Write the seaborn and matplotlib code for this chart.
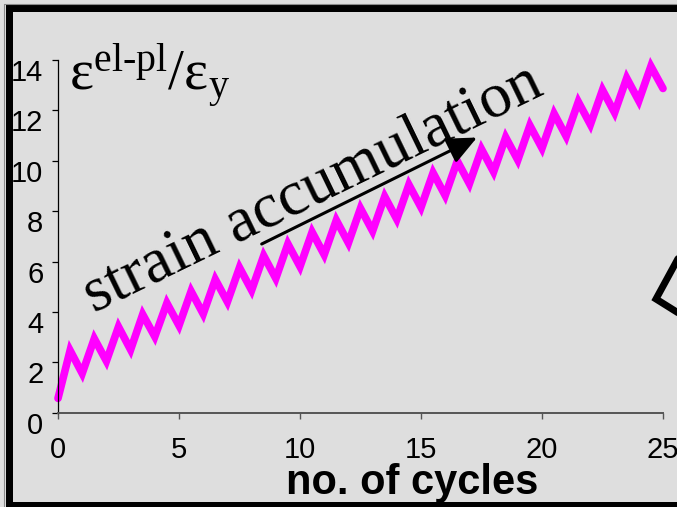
import matplotlib
matplotlib.use("Agg")

import matplotlib.pyplot as plt
import matplotlib.transforms as mtransforms
from matplotlib.patches import Rectangle, FancyArrowPatch
from matplotlib.lines import Line2D
import seaborn as sns

# cycle count (half cycles: valleys at integers, peaks at halves)
cycles = [0, 0.5, 1, 1.5, 2, 2.5, 3, 3.5, 4, 4.5, 5, 5.5, 6, 6.5, 7, 7.5,
          8, 8.5, 9, 9.5, 10, 10.5, 11, 11.5, 12, 12.5, 13, 13.5, 14, 14.5,
          15, 15.5, 16, 16.5, 17, 17.5, 18, 18.5, 19, 19.5, 20, 20.5, 21,
          21.5, 22, 22.5, 23, 23.5, 24, 24.5, 25]

# normalised elastic-plastic strain
strain = [0.57, 2.47, 1.56, 2.94, 2.05, 3.41, 2.50, 3.90, 3.02, 4.35,
          3.46, 4.82, 3.92, 5.29, 4.40, 5.76, 4.86, 6.23, 5.33, 6.70,
          5.80, 7.17, 6.27, 7.64, 6.74, 8.11, 7.21, 8.58, 7.68, 9.05,
          8.15, 9.52, 8.62, 9.99, 9.09, 10.46, 9.56, 10.93, 10.03, 11.40,
          10.50, 11.87, 10.97, 12.34, 11.44, 12.81, 11.91, 13.28, 12.38, 13.75,
          12.87]

x_ticks = [0, 5, 10, 15, 20, 25]
y_ticks = [0, 2, 4, 6, 8, 10, 12, 14]

W, H = 677, 507
BG = "#dedede"

sns.set_style("white")
plt.rcParams["font.family"] = ["Liberation Sans", "DejaVu Sans"]
plt.rcParams["text.color"] = "black"
plt.rcParams["axes.labelcolor"] = "black"
plt.rcParams["xtick.labelcolor"] = "black"
plt.rcParams["ytick.labelcolor"] = "black"
plt.rcParams["mathtext.fontset"] = "custom"
plt.rcParams["mathtext.rm"] = "Liberation Serif"
plt.rcParams["mathtext.it"] = "Liberation Serif:italic"
plt.rcParams["mathtext.bf"] = "Liberation Serif:bold"

fig = plt.figure(figsize=(W / 100, H / 100), dpi=100, facecolor=BG)
ax = fig.add_axes([58 / W, (H - 412.7) / H, 605 / W, 352.7 / H])
ax.set_facecolor(BG)

sns.lineplot(x=cycles, y=strain, ax=ax, color="#ff00ff", linewidth=5.5,
             solid_joinstyle="miter", clip_on=False)

ax.set_xlim(0, 25)
ax.set_ylim(0, 14)
ax.set_xticks(x_ticks)
ax.set_yticks(y_ticks)

for s in ["top", "right"]:
    ax.spines[s].set_visible(False)
ax.spines["left"].set_color("black")
ax.spines["left"].set_linewidth(0.9)
ax.spines["bottom"].set_color("#555555")
ax.spines["bottom"].set_linewidth(1.4)

ax.tick_params(axis="x", direction="out", length=4.5, width=1.0, color="#555555",
               labelsize=21, pad=12, bottom=True, labelcolor="black")
ax.tick_params(axis="y", direction="out", length=4.5, width=0.9, color="black",
               labelsize=21, pad=6, left=True, labelcolor="black")

# y tick labels sit a bit below their ticks in the original
offset = mtransforms.ScaledTranslation(0, -10 / 100, fig.dpi_scale_trans)
for lab in ax.get_yticklabels():
    lab.set_transform(lab.get_transform() + offset)

ax.set_xlabel("no. of cycles", fontsize=30, fontweight="bold", color="black")
ax.xaxis.set_label_coords(0.585, -0.142)
ax.set_ylabel("")

# y-quantity written inside the plot area
fig.text(69 / W, (H - 90) / H,
         r"$\mathrm{ε}^{\mathrm{el\text{-}pl}}/\mathrm{ε}_{\mathrm{y}}$",
         fontsize=41, ha="left", va="baseline", color="black")

# strain accumulation label and arrow
fig.text(94 / W, (H - 313) / H, "strain accumulation",
         family=["Liberation Serif", "DejaVu Serif"], color="black",
         fontsize=46, rotation=25.9, rotation_mode="anchor", ha="left", va="baseline")
fig.add_artist(FancyArrowPatch(
    (261.7 / W, (H - 244) / H), (477 / W, (H - 137.5) / H),
    transform=fig.transFigure, arrowstyle="-|>,head_length=1.0,head_width=0.45",
    mutation_scale=18, color="black", linewidth=2.2, shrinkA=0, shrinkB=0))

# slide frame
for (x0, y0, w, h) in [(6, 5, 7, 502), (6, 5, 671, 7), (6, 502, 671, 5)]:
    fig.add_artist(Rectangle((x0 / W, (H - y0 - h) / H), w / W, h / H,
                             transform=fig.transFigure, color="black", lw=0))
fig.add_artist(Line2D([3.5 / W, 3.5 / W], [0, (H - 3.5) / H], transform=fig.transFigure,
                      color="#8a8a8a", linewidth=0.8))
fig.add_artist(Line2D([3.5 / W, 1], [(H - 3.5) / H, (H - 3.5) / H], transform=fig.transFigure,
                      color="#8a8a8a", linewidth=0.8))

# corner of a neighbouring sketch cut off at the right edge
fig.add_artist(Line2D([680 / W, 656 / W, 680 / W], [(H - 255) / H, (H - 299) / H, (H - 314) / H],
                      transform=fig.transFigure, color="black", linewidth=5,
                      solid_joinstyle="miter"))

fig.savefig("out.png", dpi=100, facecolor=BG)
